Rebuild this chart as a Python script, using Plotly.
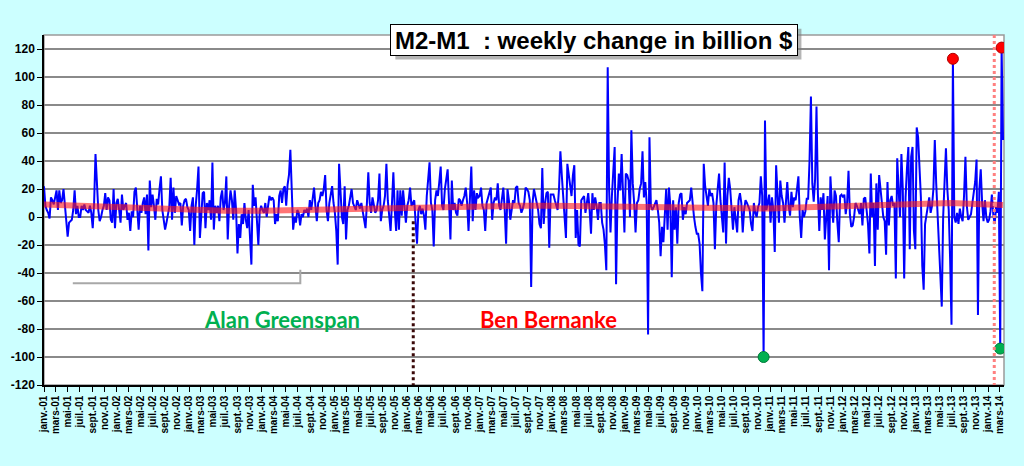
import pandas as pd
import plotly.graph_objects as go

# ---------------- data (weekly change M2-M1, billion $) ----------------
y2001 = [22, 8, 5, 3, -1, 14, 12, 9, 14, 19,
         5, 19, 10, 12, 20, 9, 0, -14, -4, -3,
         -2, 5, 19, 2, 8, 0, 0, 8, 5, 9,
         5, 4, 3, 8, 3, -8, 10, 45, 20, 5,
         -3, 0, 5, 8, 17, 5, 14, 12, -2, -4,
         20, -8, 10]
y2002 = [13, 5, -4, 16, 5, 8, 10, -2, 3, -10,
         4, 0, 18, 21, 2, -9, 8, 3, 10, 14,
         2, 16, -24, 26, 7, 16, 8, -2, 13, 9,
         20, 29, 5, -3, -9, -4, 2, 7, 28, -2,
         21, 3, 15, 12, 9, 10, -6, 8, 12, 13,
         7, 5]
y2003 = [-10, 8, 14, -20, 8, 20, 36, -15, 5, 17,
         18, -8, 10, 5, 12, -2, 39, -9, 8, 3,
         8, -3, 14, 19, 5, 10, 29, -16, 8, 19,
         12, -2, 19, 5, -26, -5, -15, 2, -5, 10,
         -2, -8, 5, -12, -34, 23, 8, 14, 0, -20,
         4, 8]
y2004 = [5, 3, 10, 0, 8, 15, 12, 14, 12, -5,
         2, -3, 15, 19, 10, 20, 22, 8, 23, 30,
         48, 20, -9, 0, -4, 5, 3, -6, 2, 0,
         5, 3, 6, 0, 12, 5, 15, 21, 8, -3,
         10, 12, 18, 15, 20, 30, 5, -3, 10, 15,
         22, 10]
y2005 = [3, -10, -34, 38, 20, 0, -5, 22, -16, 5,
         8, 14, 20, 10, 8, 5, 12, 8, 6, 10,
         3, -2, -8, 10, 32, 10, 3, 14, 8, 3,
         5, 12, 31, -3, 5, 8, 15, 38, 12, 2,
         -10, 10, 32, 5, -10, 19, -9, 19, 1, 19,
         5, -4]
y2006 = [8, 12, 21, 8, 10, 12, -4, -19, 5, 8,
         2, 6, 1, -9, 15, 25, 39, 10, 5, -21,
         12, 19, 15, 25, 36, 8, 5, 20, 29, 34,
         10, -16, 26, 5, 10, 3, 1, 13, 12, 8,
         12, 15, 21, 10, -10, 15, 36, -3, 19, 5,
         17, 14]
y2007 = [15, 21, 8, 5, -10, 10, 14, 18, 21, -2,
         10, 14, 12, 24, 8, 5, 15, 21, 5, -19,
         20, 12, -2, 5, 12, 10, 21, 22, 10, 8,
         3, 6, 10, 21, 20, 18, 12, -50, 10, 20,
         15, 8, 5, -5, -8, 35, -5, 10, 17, 18,
         -22, 16, 16]
y2008 = [16, 12, 8, 5, 20, 47, 30, 15, -8, -15,
         38, 30, 20, 15, 30, 37, -15, 5, -20, -21,
         12, 14, 15, 3, 10, 17, 5, -12, 17, 5,
         14, 8, -2, 10, 10, -4, -9, -20, -38, 107,
         20, -11, 15, 31, 50, -48, 10, 31, 19, 45,
         17, -11]
y2009 = [31, 30, 26, 0, 62, 24, 10, -11, 10, 12,
         20, 24, 47, 14, 25, 10, -84, 57, 8, 5,
         7, 10, 12, 5, -4, -28, -7, -18, 8, 20,
         -9, 21, 8, -43, 12, -9, 7, -19, 10, 16,
         17, -2, 7, 2, 10, 11, 12, 21, 8, 0,
         -7, -12]
y2010 = [-12, -19, -40, -53, 38, 22, 15, 8, 20, 15,
         17, 10, -23, 8, 20, 31, 12, 0, -11, 39,
         -19, 15, 28, 20, 3, -9, 7, -2, -11, 12,
         17, 10, -11, 5, 12, 10, 7, 5, -5, -10,
         10, 3, 0, 7, 10, 29, 15, -100, 69, 5,
         10, 16]
y2011 = [-4, 14, 5, -25, 37, 10, -4, 26, 15, 10,
         -4, 10, 25, 8, 1, 18, 7, 14, 12, 20,
         29, 0, -15, 5, 0, 4, 13, 13, 40, 86,
         24, 11, 27, 79, 17, -10, 14, 5, 17, -16,
         -2, 15, -38, 29, 10, -4, 19, 15, -4, -18,
         15, 16]
y2012 = [14, 16, 2, 10, 33, 2, -7, -6, 0, 10,
         8, 4, 2, 10, -6, 13, 14, 5, -5, -26,
         31, 0, 10, -35, 24, -9, 30, 20, 9, 0,
         -3, -27, 25, -6, 12, 15, 8, 10, -44, 42,
         20, 0, 45, 20, -44, 14, 35, 50, -23, 43,
         50, -10, -23]
y2013 = [64, 57, 30, 14, -35, -52, -5, 2, 10, 14,
         3, 8, 20, 55, 24, 2, -15, -40, -64, 0,
         30, 49, 20, 5, -30, -77, 113, 0, -4, 3,
         -5, 6, 0, -3, 15, 43, 8, -2, 0, 2,
         10, 18, 25, 41, -70, 20, 34, 10, -3, 12,
         0, -4]
y2014 = [-2, 4, 16, 2, -5, 7, 3, 18, -94, 121, 55]

weekly_change = (y2001 + y2002 + y2003 + y2004 + y2005 + y2006 + y2007 +
                 y2008 + y2009 + y2010 + y2011 + y2012 + y2013 + y2014)
week_dates = pd.date_range("2001-01-01", periods=len(weekly_change), freq="W-MON")

# long moving-average (red band)
trend_dates = ["2001-01-01", "2001-07-01", "2002-01-01", "2002-07-01", "2003-01-01",
               "2003-07-01", "2004-01-01", "2004-07-01", "2005-01-01", "2005-07-01",
               "2006-01-01", "2006-07-01", "2007-01-01", "2007-07-01", "2008-01-01",
               "2008-07-01", "2009-01-01", "2009-07-01", "2010-01-01", "2010-07-01",
               "2011-01-01", "2011-07-01", "2012-01-01", "2012-07-01", "2013-01-01",
               "2013-07-01", "2014-01-01", "2014-03-17"]
trend_values = [9, 8, 7, 6, 5, 4.5, 4.5, 5, 5.5, 6.5,
                7.5, 8, 8, 8, 8, 7.5, 7, 6.5, 6, 5.5,
                6, 7, 8, 9, 10, 10, 9, 8.5]

# highlighted extremes (windows in which the extreme is marked)
high_windows = [("2013-01-01", "2013-12-31"), ("2014-01-01", "2014-12-31")]
low_windows = [("2010-01-01", "2010-12-31"), ("2014-01-01", "2014-12-31")]

# chairman change dates
greenspan_end = "2006-02-01"
bernanke_end = "2014-02-01"

# x tick labels (French month abbreviations)
months_fr = {1: "janv.", 3: "mars", 5: "mai", 7: "juil.", 9: "sept.", 11: "nov."}
tick_dates = pd.date_range("2001-01-01", "2014-03-01", freq="2MS")
tick_labels = [f"{months_fr[d.month]}-{d.year % 100:02d}" for d in tick_dates]
y_ticks = list(range(-120, 121, 20))

# ---------------- figure ----------------
s = pd.Series(weekly_change, index=week_dates)
hi_idx = [s[a:b].idxmax() for a, b in high_windows]
lo_idx = [s[a:b].idxmin() for a, b in low_windows]

fig = go.Figure()
fig.add_trace(go.Scatter(x=week_dates, y=weekly_change, mode="lines",
                         line=dict(color="#0000FF", width=2), hoverinfo="skip"))
fig.add_trace(go.Scatter(x=pd.to_datetime(trend_dates), y=trend_values, mode="lines",
                         line=dict(color="rgb(255,25,25)", width=6), opacity=0.6,
                         hoverinfo="skip"))
fig.add_trace(go.Scatter(x=hi_idx, y=[s[d] for d in hi_idx], mode="markers",
                         marker=dict(color="#FF0000", size=11,
                                     line=dict(color="#B00000", width=1)),
                         hoverinfo="skip"))
fig.add_trace(go.Scatter(x=lo_idx, y=[s[d] for d in lo_idx], mode="markers",
                         marker=dict(color="#00B050", size=11,
                                     line=dict(color="#007a3a", width=1)),
                         hoverinfo="skip"))

shapes = []
# darker gridlines (alternating)
for v in [-100, -60, -20, 20, 60, 100]:
    shapes.append(dict(type="line", xref="paper", x0=0, x1=1, yref="y", y0=v, y1=v,
                       line=dict(color="#000000", width=1), layer="below"))
# plot border (top/right)
shapes.append(dict(type="rect", xref="paper", yref="paper", x0=0, x1=1, y0=0, y1=1,
                   line=dict(color="#9a9a9a", width=1.5), layer="below"))
# chairman separators
shapes.append(dict(type="line", xref="x", yref="y", x0=greenspan_end, x1=greenspan_end,
                   y0=-3, y1=-120, line=dict(color="#3a0808", width=3, dash="dot")))
shapes.append(dict(type="line", xref="x", yref="y", x0=bernanke_end, x1=bernanke_end,
                   y0=130, y1=-120, line=dict(color="#ff8080", width=3, dash="dot")))
# gray bracket line
shapes.append(dict(type="path", xref="paper", yref="paper",
                   path="M 0.030 0.291 L 0.267 0.291 L 0.267 0.329",
                   line=dict(color="#a8a8a8", width=2)))
# title box shadow
shapes.append(dict(type="rect", xref="paper", yref="paper",
                   x0=0.366, x1=0.789, y0=0.930, y1=1.018,
                   fillcolor="rgba(120,120,120,0.55)", line=dict(width=0)))

annotations = [
    dict(text="<b>M2-M1\u00a0 : weekly change in billion $</b>", xref="paper", yref="paper",
         x=0.5725, y=0.9845, xanchor="center", yanchor="middle", showarrow=False,
         font=dict(family="Liberation Sans, Arial", size=24, color="#000000"),
         bgcolor="#FFFFFF", bordercolor="#000000", borderwidth=1, borderpad=2,
         width=402, height=26),
    dict(text="<b>Alan Greenspan</b>", xref="paper", yref="paper", x=0.248, y=0.186,
         xanchor="center", yanchor="middle", showarrow=False,
         font=dict(family="Lato", size=22, color="#00B050")),
    dict(text="<b>Ben Bernanke</b>", xref="paper", yref="paper", x=0.5255, y=0.186,
         xanchor="center", yanchor="middle", showarrow=False,
         font=dict(family="Lato", size=22, color="#FF0000")),
]

fig.update_layout(
    width=1024, height=466,
    margin=dict(l=44, r=20, t=35, b=81),
    paper_bgcolor="#CCFFFF", plot_bgcolor="#FFFFFF",
    showlegend=False, hovermode=False,
    shapes=shapes, annotations=annotations,
    xaxis=dict(type="date", range=["2001-01-01", "2014-03-22"],
               tickvals=tick_dates, ticktext=[f"<b>{t}</b>" for t in tick_labels],
               tickangle=-90,
               tickfont=dict(family="Liberation Sans, Arial", size=10, color="#000000"),
               ticks="outside", ticklen=5, tickcolor="#000000",
               showgrid=False, showline=True, linecolor="#000000", linewidth=1.5,
               zeroline=False),
    yaxis=dict(range=[-120, 130], tickvals=y_ticks,
               ticktext=[f"<b>{v}</b>" for v in y_ticks],
               tickfont=dict(family="Liberation Sans, Arial", size=12, color="#000000"),
               ticks="outside", ticklen=5, tickcolor="#000000",
               showgrid=True, gridcolor="#8a8a8a", gridwidth=1.5,
               showline=True, linecolor="#000000", linewidth=1.5, zeroline=False),
)

fig.write_html("out.html", config={"displayModeBar": False},
               post_script="document.body.style.margin='0';"
                           "document.body.style.overflow='hidden';"
                           "document.body.style.background='#CCFFFF';")
